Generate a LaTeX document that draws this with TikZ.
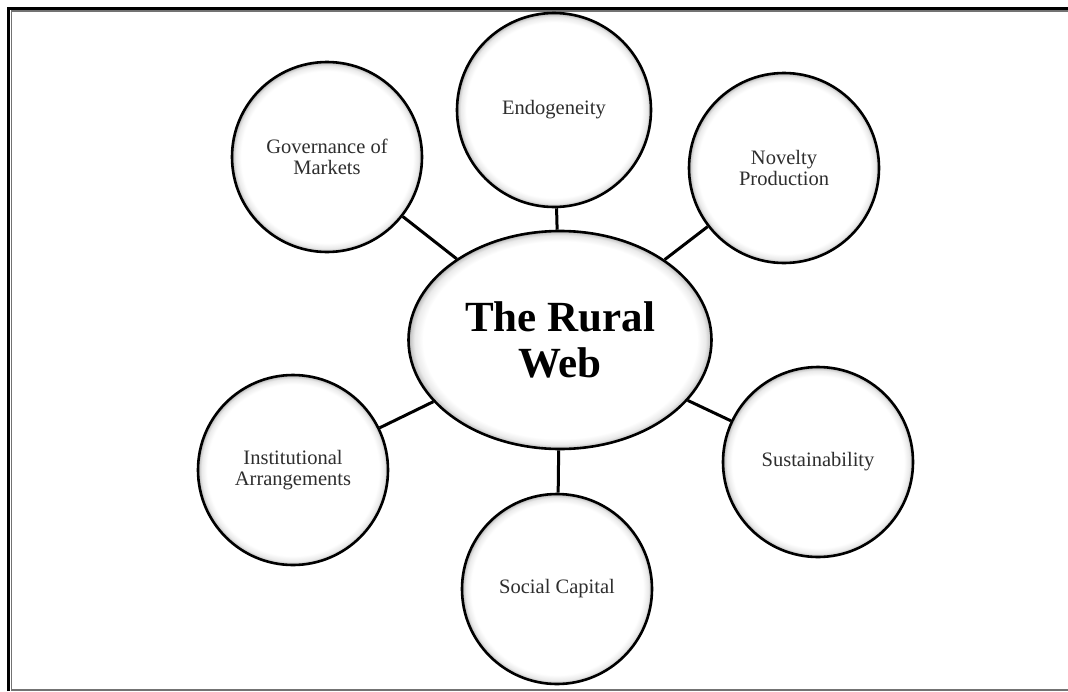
\documentclass[tikz,border=0pt]{standalone}
\usepackage{fontspec}
\setmainfont{Liberation Serif}
\usetikzlibrary{shapes.geometric}

% white body with a thin soft grey rim just inside the outline
% (the path's bounding box spans the middle 50bp of the shading)
\pgfdeclareradialshading{rimshade}{\pgfpoint{0bp}{0bp}}{%
  color(0bp)=(white); color(22.6bp)=(white); color(24bp)=(black!8);
  color(24.7bp)=(black!22); color(25bp)=(black!40); color(50bp)=(black!40)}

\tikzset{
  topic/.style={circle, draw=black, line width=2.6pt, shade, shading=rimshade,
    minimum size=190pt, inner sep=0pt, align=center,
    font=\fontsize{20.5}{21}\selectfont, text=black!82},
  hub/.style={ellipse, draw=black, line width=2.6pt, shade, shading=rimshade,
    minimum width=303pt, minimum height=218pt, inner sep=2pt, align=center,
    font=\fontsize{43}{46}\selectfont\bfseries, text=black},
  link/.style={line width=3pt, black},
}

\begin{document}
\begin{tikzpicture}[x=1pt, y=-1pt]
  \useasboundingbox (0,0) rectangle (1068,691);

  % page frame
  \draw[black, line width=2.6pt, line join=miter] (8.6,691) -- (8.6,8.3) -- (1068,8.3);
  \draw[black!55, line width=1.2pt] (11.6,689) -- (11.6,11) -- (1068,11);
  \draw[black!55, line width=2pt] (11,689.5) -- (1068,689.5);

  % central ellipse
  \node[hub] (hub) at (560,340) {The Rural\\Web};

  % surrounding themes
  \node[topic, minimum size=194pt] (endo) at (554,110) {Endogeneity};
  \node[topic] (gov)  at (327,157) {Governance of\\Markets};
  \node[topic] (nov)  at (784,168) {Novelty\\Production};
  \node[topic] (inst) at (293,470) {Institutional\\Arrangements};
  \node[topic] (sust) at (818,462) {Sustainability};
  \node[topic] (soc)  at (557,589) {Social Capital};

  % spokes
  \foreach \t in {endo,gov,nov,inst,sust,soc}
    \draw[link] (\t) -- (hub);
\end{tikzpicture}
\end{document}
